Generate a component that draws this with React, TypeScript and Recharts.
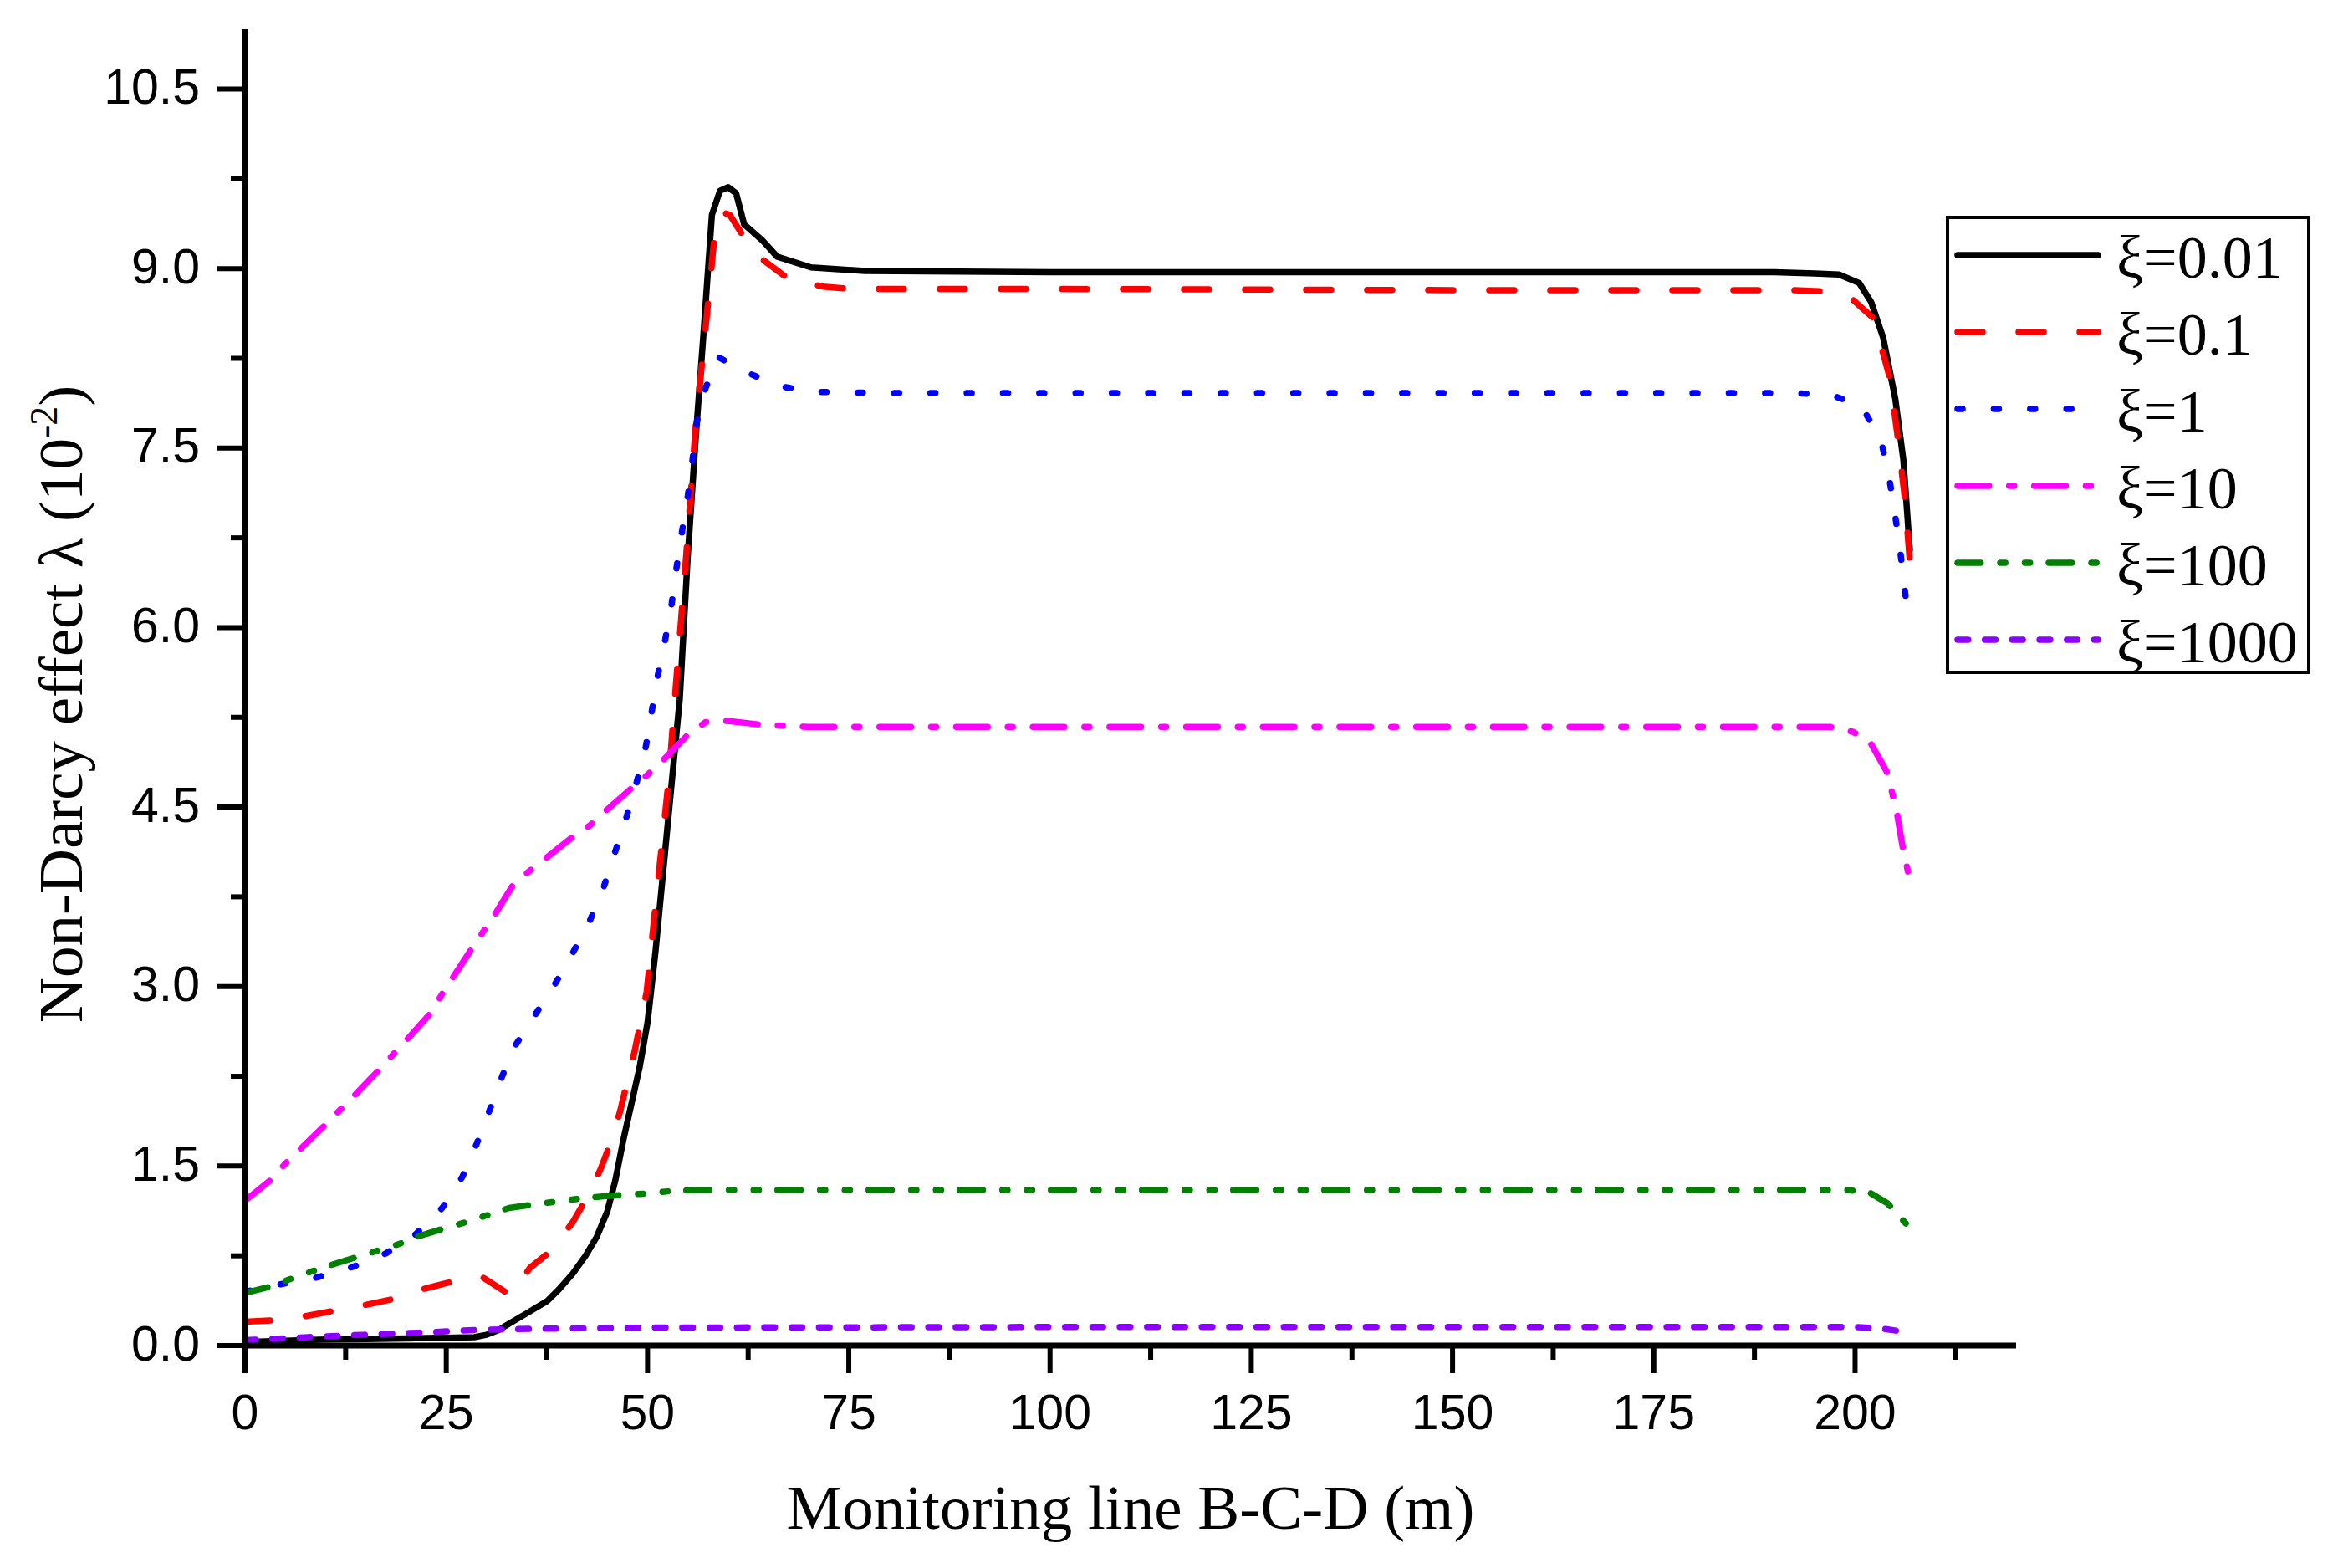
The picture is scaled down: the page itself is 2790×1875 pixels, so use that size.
import React from 'react';
import { LineChart, Line, XAxis, YAxis, Legend } from 'recharts';

// ---------- data (x: monitoring line position in m, y: non-Darcy effect λ in 10^-2) ----------
const xi001 = [
  { x: 0, y: 0.03 }, { x: 5, y: 0.04 }, { x: 10, y: 0.05 }, { x: 15, y: 0.055 }, { x: 20, y: 0.06 },
  { x: 25, y: 0.065 }, { x: 28.5, y: 0.07 }, { x: 30, y: 0.09 }, { x: 31.5, y: 0.13 }, { x: 33, y: 0.19 },
  { x: 35, y: 0.27 }, { x: 37.5, y: 0.37 }, { x: 39, y: 0.47 }, { x: 40.7, y: 0.6 }, { x: 42.3, y: 0.75 },
  { x: 43.7, y: 0.91 }, { x: 45, y: 1.12 }, { x: 46, y: 1.38 }, { x: 47, y: 1.72 }, { x: 48, y: 2.02 },
  { x: 49, y: 2.32 }, { x: 50, y: 2.7 }, { x: 51, y: 3.3 }, { x: 52, y: 4.0 }, { x: 53, y: 4.7 },
  { x: 54, y: 5.4 }, { x: 55, y: 6.6 }, { x: 56, y: 7.6 }, { x: 57, y: 8.5 }, { x: 58, y: 9.45 },
  { x: 59, y: 9.65 }, { x: 60, y: 9.68 }, { x: 61, y: 9.63 }, { x: 62, y: 9.37 }, { x: 64.2, y: 9.24 },
  { x: 66.1, y: 9.1 }, { x: 70.3, y: 9.01 }, { x: 77, y: 8.98 }, { x: 100, y: 8.97 }, { x: 150, y: 8.97 },
  { x: 190, y: 8.97 }, { x: 195, y: 8.96 }, { x: 198, y: 8.95 }, { x: 200.5, y: 8.88 }, { x: 202, y: 8.72 },
  { x: 203.5, y: 8.42 }, { x: 205, y: 7.91 }, { x: 206, y: 7.4 }, { x: 206.8, y: 6.65 },
];

const xi01 = [
  { x: 0, y: 0.2 }, { x: 3.5, y: 0.21 }, { x: 7, y: 0.24 }, { x: 11, y: 0.29 }, { x: 15, y: 0.34 },
  { x: 18.5, y: 0.39 }, { x: 22, y: 0.47 }, { x: 25.5, y: 0.53 }, { x: 29.3, y: 0.58 }, { x: 33, y: 0.42 },
  { x: 35.4, y: 0.65 }, { x: 38, y: 0.79 }, { x: 40.7, y: 1.03 }, { x: 42.6, y: 1.25 }, { x: 44.2, y: 1.48 },
  { x: 45.5, y: 1.71 }, { x: 46.6, y: 1.96 }, { x: 48.4, y: 2.46 }, { x: 49.9, y: 2.96 }, { x: 51, y: 3.69 },
  { x: 52.6, y: 4.71 }, { x: 53.5, y: 5.5 }, { x: 54.8, y: 6.6 }, { x: 56, y: 7.7 }, { x: 57.4, y: 8.63 },
  { x: 58.3, y: 9.26 }, { x: 59.3, y: 9.47 }, { x: 60.2, y: 9.45 }, { x: 62, y: 9.26 }, { x: 64.4, y: 9.07 },
  { x: 67.6, y: 8.91 }, { x: 71.8, y: 8.85 }, { x: 75, y: 8.83 }, { x: 100, y: 8.83 }, { x: 150, y: 8.82 },
  { x: 192, y: 8.82 }, { x: 196, y: 8.81 }, { x: 199.4, y: 8.76 }, { x: 202.2, y: 8.59 }, { x: 203.4, y: 8.31 },
  { x: 204.3, y: 8.09 }, { x: 205.3, y: 7.59 }, { x: 206.2, y: 7.07 }, { x: 206.8, y: 6.55 },
];

const xi1 = [
  { x: 0, y: 0.45 }, { x: 5, y: 0.52 }, { x: 9, y: 0.57 }, { x: 13.5, y: 0.66 }, { x: 17.5, y: 0.77 },
  { x: 21.2, y: 0.93 }, { x: 24.5, y: 1.15 }, { x: 27, y: 1.41 }, { x: 28.8, y: 1.69 }, { x: 30.4, y: 1.97 },
  { x: 32, y: 2.26 }, { x: 33.7, y: 2.52 }, { x: 36, y: 2.76 }, { x: 38.5, y: 3.02 }, { x: 40.7, y: 3.28 },
  { x: 42.9, y: 3.56 }, { x: 44.6, y: 3.84 }, { x: 46, y: 4.13 }, { x: 47.4, y: 4.42 }, { x: 48.7, y: 4.72 },
  { x: 49.8, y: 5.01 }, { x: 50.6, y: 5.33 }, { x: 51.3, y: 5.61 }, { x: 52.2, y: 5.9 }, { x: 53, y: 6.2 },
  { x: 53.6, y: 6.5 }, { x: 54.3, y: 6.81 }, { x: 55, y: 7.1 }, { x: 55.6, y: 7.41 }, { x: 56.1, y: 7.71 },
  { x: 57.2, y: 8.0 }, { x: 58.8, y: 8.26 }, { x: 62.1, y: 8.14 }, { x: 66.2, y: 8.02 }, { x: 70.6, y: 7.97 },
  { x: 80, y: 7.96 }, { x: 150, y: 7.96 }, { x: 192.5, y: 7.96 }, { x: 197.2, y: 7.94 }, { x: 200.8, y: 7.85 },
  { x: 203.2, y: 7.57 }, { x: 204.2, y: 7.27 }, { x: 204.9, y: 6.97 }, { x: 205.5, y: 6.7 }, { x: 206.7, y: 6.02 },
];

const xi10 = [
  { x: 0, y: 1.21 }, { x: 3.3, y: 1.39 }, { x: 5, y: 1.52 }, { x: 9.9, y: 1.84 }, { x: 13.6, y: 2.09 },
  { x: 16.6, y: 2.3 }, { x: 20.3, y: 2.57 }, { x: 23.1, y: 2.78 }, { x: 24.5, y: 2.94 }, { x: 28.2, y: 3.32 },
  { x: 31.2, y: 3.62 }, { x: 33.3, y: 3.85 }, { x: 35.4, y: 3.97 }, { x: 37.5, y: 4.08 }, { x: 40.7, y: 4.25 },
  { x: 42.9, y: 4.35 }, { x: 45, y: 4.48 }, { x: 48.4, y: 4.68 }, { x: 50, y: 4.77 }, { x: 51.9, y: 4.89 },
  { x: 54.8, y: 5.09 }, { x: 57.2, y: 5.21 }, { x: 59.9, y: 5.22 }, { x: 63.9, y: 5.19 }, { x: 70, y: 5.17 },
  { x: 150, y: 5.17 }, { x: 196.9, y: 5.17 }, { x: 199.7, y: 5.13 }, { x: 201.8, y: 5.05 }, { x: 203.9, y: 4.8 },
  { x: 204.6, y: 4.62 }, { x: 205.2, y: 4.45 }, { x: 205.9, y: 4.17 }, { x: 206.6, y: 3.95 },
];

const xi100 = [
  { x: 0, y: 0.44 }, { x: 3, y: 0.49 }, { x: 5.4, y: 0.55 }, { x: 8.3, y: 0.62 }, { x: 11, y: 0.68 },
  { x: 13.9, y: 0.74 }, { x: 16.3, y: 0.79 }, { x: 19.2, y: 0.85 }, { x: 21.4, y: 0.91 }, { x: 24.8, y: 0.98 },
  { x: 27.4, y: 1.03 }, { x: 30.1, y: 1.09 }, { x: 32.8, y: 1.15 }, { x: 36, y: 1.18 }, { x: 38.3, y: 1.2 },
  { x: 41.8, y: 1.23 }, { x: 45, y: 1.25 }, { x: 49.8, y: 1.27 }, { x: 52.7, y: 1.29 }, { x: 56, y: 1.3 },
  { x: 100, y: 1.3 }, { x: 150, y: 1.3 }, { x: 199, y: 1.3 }, { x: 201.9, y: 1.275 }, { x: 204, y: 1.19 },
  { x: 206.3, y: 1.02 },
];

const xi1000 = [
  { x: 0, y: 0.045 }, { x: 7.8, y: 0.07 }, { x: 14.7, y: 0.09 }, { x: 22.7, y: 0.11 }, { x: 28.5, y: 0.13 },
  { x: 36, y: 0.14 }, { x: 50, y: 0.15 }, { x: 100, y: 0.155 }, { x: 200, y: 0.155 }, { x: 203.5, y: 0.14 },
  { x: 206.6, y: 0.11 },
];

const xTicks = [0, 12.5, 25, 37.5, 50, 62.5, 75, 87.5, 100, 112.5, 125, 137.5, 150, 162.5, 175, 187.5, 200, 212.5];
const yTicks = [0, 0.75, 1.5, 2.25, 3, 3.75, 4.5, 5.25, 6, 6.75, 7.5, 8.25, 9, 9.75, 10.5];

const series = [
  { name: 'ξ=0.01', data: xi001, color: '#000000', dash: undefined },
  { name: 'ξ=0.1', data: xi01, color: '#ff0000', dash: '30 43' },
  { name: 'ξ=1', data: xi1, color: '#0000ff', dash: '6 37.4' },
  { name: 'ξ=10', data: xi10, color: '#ff00ff', dash: '37.7 24 6 24' },
  { name: 'ξ=100', data: xi100, color: '#008000', dash: '27.7 23.3 6.2 23.3 6.2 22.3' },
  { name: 'ξ=1000', data: xi1000, color: '#8b00ff', dash: '12.7 20' },
];

const SANS = 'Liberation Sans, Arial, sans-serif';
const SERIF = 'Liberation Serif, Times New Roman, serif';
const LINE_W = 7.5;

const XTick = (props: any) => {
  const { x, y, payload } = props;
  const v = payload.value;
  const major = Math.abs(v % 25) < 1e-9;
  return (
    <g>
      <line x1={x} x2={x} y1={y} y2={y + (major ? 33 : 17)} stroke="#000" strokeWidth={6} />
      {major && (
        <text x={x} y={y + 100} textAnchor="middle" fontSize={59} fontFamily={SANS} fill="#000">
          {v}
        </text>
      )}
    </g>
  );
};

const YTick = (props: any) => {
  const { x, y, payload } = props;
  const v = payload.value;
  const major = Math.abs((v / 1.5) - Math.round(v / 1.5)) < 1e-9;
  return (
    <g>
      <line x1={x} x2={x - (major ? 33 : 17)} y1={y} y2={y} stroke="#000" strokeWidth={6} />
      {major && (
        <text x={x - 54} y={y + 17.5} textAnchor="end" fontSize={59} fontFamily={SANS} fill="#000">
          {v.toFixed(1)}
        </text>
      )}
    </g>
  );
};

const LegendBox = () => (
  <svg width={436} height={548} style={{ display: 'block', overflow: 'visible' }}>
    <rect x={2} y={2} width={432} height={544} fill="#fff" stroke="#000" strokeWidth={4} />
    {series.map((s, i) => {
      const cy = 47 + i * 92;
      return (
        <g key={s.name}>
          <line x1={14} x2={182} y1={cy} y2={cy} stroke={s.color} strokeWidth={LINE_W}
            strokeDasharray={s.dash} strokeLinecap="round" />
          <text x={204} y={cy + 27} fontSize={72} fontFamily={SERIF} fill="#000">{s.name}</text>
        </g>
      );
    })}
  </svg>
);

const XTitle = (props: any) => {
  const vb = props.viewBox || { x: 293, y: 1609, width: 2118 };
  return (
    <text x={vb.x + vb.width / 2} y={vb.y + 219} textAnchor="middle" fontSize={75} fontFamily={SERIF} fill="#000">
      Monitoring line B-C-D (m)
    </text>
  );
};

const YTitle = (props: any) => {
  const vb = props.viewBox || { x: 0, y: 35, height: 1574 };
  const cx = 98;
  const cy = vb.y + vb.height / 2 + 20;
  return (
    <text x={cx} y={cy} transform={`rotate(-90, ${cx}, ${cy})`} textAnchor="middle" fontSize={75}
      fontFamily={SERIF} fill="#000">
      Non-Darcy effect λ (10<tspan dy={-30} fontSize={46}>-2</tspan><tspan dy={30}>)</tspan>
    </text>
  );
};

export default function App() {
  return (
    <div style={{ position: 'absolute', left: 0, top: 0, background: '#fff' }}>
      <LineChart width={2790} height={1875} margin={{ top: 35, right: 379, bottom: 0, left: 0 }}>
        <XAxis
          dataKey="x"
          type="number"
          domain={[0, 220]}
          ticks={xTicks}
          interval={0}
          height={266}
          tickSize={0}
          tickMargin={0}
          tickLine={false}
          axisLine={{ stroke: '#000', strokeWidth: 7 }}
          tick={<XTick />}
          allowDataOverflow
          label={{ content: <XTitle /> }}
        />
        <YAxis
          type="number"
          domain={[0, 11]}
          ticks={yTicks}
          interval={0}
          width={293}
          tickSize={0}
          tickMargin={0}
          tickLine={false}
          axisLine={{ stroke: '#000', strokeWidth: 7 }}
          tick={<YTick />}
          allowDataOverflow
          label={{ content: <YTitle /> }}
        />
        <Legend
          layout="vertical"
          align="center"
          verticalAlign="middle"
          wrapperStyle={{ position: 'absolute', left: 2327, top: 258, width: 436, height: 548 }}
          content={() => <LegendBox />}
        />
        {series.map((s) => (
          <Line
            key={s.name}
            name={s.name}
            data={s.data}
            dataKey="y"
            type="linear"
            stroke={s.color}
            strokeWidth={LINE_W}
            strokeDasharray={s.dash}
            strokeLinecap="round"
            strokeLinejoin="round"
            dot={false}
            activeDot={false}
            isAnimationActive={false}
          />
        ))}
      </LineChart>
    </div>
  );
}
